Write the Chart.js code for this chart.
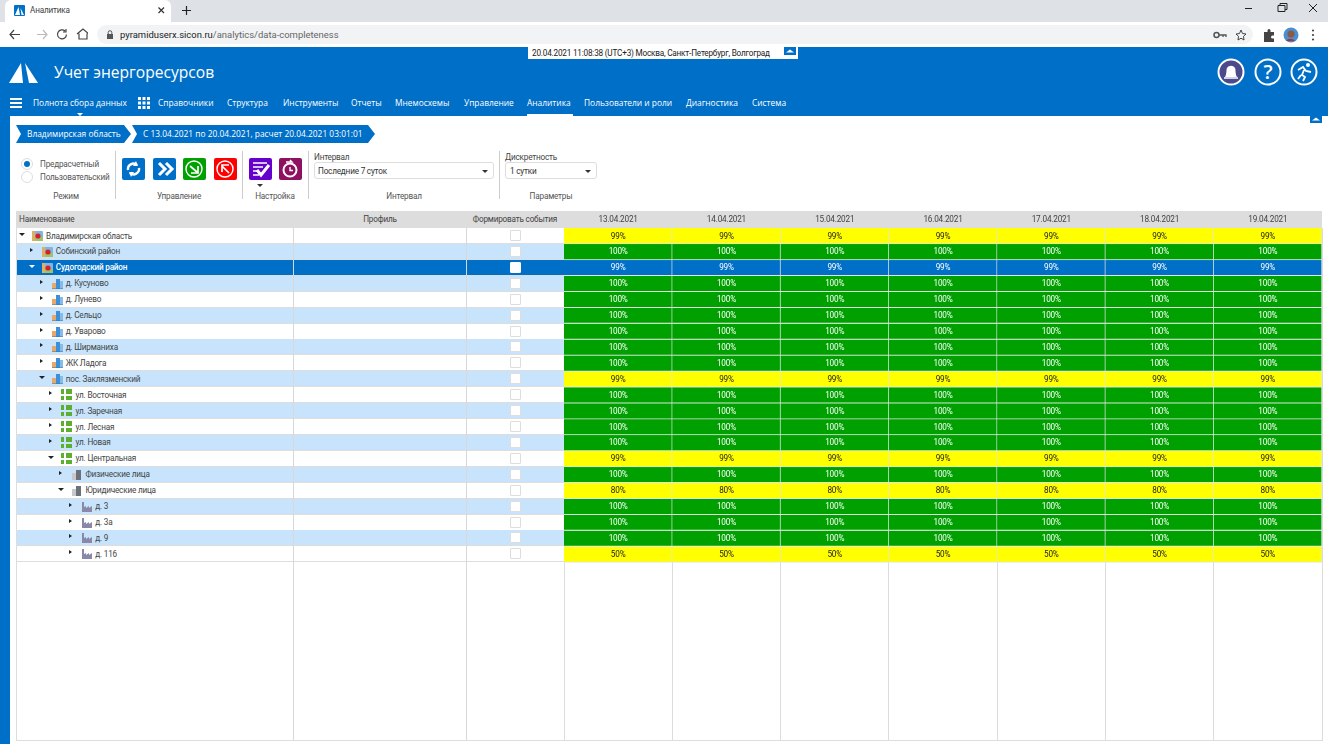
<!DOCTYPE html>
<html lang="ru">
<head>
<meta charset="utf-8">
<title>Аналитика</title>
<script src="https://cdn.jsdelivr.net/npm/chart.js@4"></script>
<style>
html, body { margin: 0; padding: 0; width: 1328px; height: 744px; overflow: hidden; background: #fff; font-family: Roboto, sans-serif; color: #333; }
.a { position: absolute; }
.t { position: absolute; white-space: nowrap; font-size: 8.2px; letter-spacing: -0.2px; line-height: 12px; height: 12px; }
.o { font-family: "Open Sans", sans-serif; font-size: 8.4px; letter-spacing: 0; }
.c { transform: translateX(-50%); }
.btn { position: absolute; top: 158px; width: 23px; height: 22px; border-radius: 2px; }
.sep { position: absolute; top: 151px; height: 48px; width: 1px; background: #ccc; }
.sel { position: absolute; top: 162px; height: 17px; border: 1px solid #ddd; border-radius: 3px; box-sizing: border-box; }
.tri { position: absolute; width: 0; height: 0; border-left: 3px solid transparent; border-right: 3px solid transparent; border-top: 3px solid #333; }
#heat { position: absolute; left: 564px; top: 211px; }
</style>
</head>
<body>
<!-- browser -->
<div class="a" style="left:0;top:0;width:1328px;height:22px;background:#dee1e6"></div>
<div class="a" style="left:5px;top:0;width:166px;height:22px;background:#fff;border-radius:6px 6px 0 0"></div>
<svg class="a" style="left:14px;top:5px" width="11" height="11"><rect width="11" height="11" rx="1" fill="#0070c8"/><path d="M1 10L4.5 2L6 10ZM6.5 3L10 10H7.5Z" fill="#fff"/></svg>
<span class="t" style="left:30px;top:4px;color:#444">Аналитика</span>
<svg class="a" style="left:157px;top:6px" width="9" height="9"><path d="M1.5 1.5L7 7M7 1.5L1.5 7" stroke="#333" stroke-width="1.2"/></svg>
<svg class="a" style="left:181px;top:5px" width="11" height="11"><path d="M5.5 1V10M1 5.5H10" stroke="#222" stroke-width="1.2"/></svg>
<svg class="a" style="left:1240px;top:2px" width="85" height="14" fill="none" stroke="#222"><path d="M5 6.5H12"/><path d="M38 3.5H45V9.5H38ZM40 3.5V1.5H47V7.5H45"/><path d="M69 2L77 10M77 2L69 10"/></svg>
<div class="a" style="left:0;top:22px;width:1328px;height:25px;background:#fff"></div>
<svg class="a" style="left:8px;top:26px" width="80" height="16" fill="none" stroke="#444" stroke-width="1.2"><path d="M2 8.5H12M6 4L2 8.5L6 13"/><path d="M29 8.5H39M35 4L39 8.5L35 13" stroke="#bbb"/><path d="M57 5a4.5 4.5 0 1 0 1.5 3.5M58 3V6H55"/><path d="M69 8L75 3L81 8M71 7.5V13H79V7.5"/></svg>
<div class="a" style="left:97px;top:25px;width:1156px;height:19px;background:#f1f3f4;border-radius:10px"></div>
<svg class="a" style="left:106px;top:30px" width="8" height="9"><rect x="1" y="4" width="6" height="5" fill="#555"/><path d="M2.2 4V2.5a1.8 1.8 0 0 1 3.6 0V4" fill="none" stroke="#555"/></svg>
<span class="t" style="left:120px;top:29px;font-size:9.45px;letter-spacing:0;color:#666"><span style="color:#222">pyramiduserx.sicon.ru</span>/analytics/data-completeness</span>
<svg class="a" style="left:1212px;top:28px" width="40" height="14"><circle cx="4.5" cy="7" r="2.5" fill="none" stroke="#555" stroke-width="1.5"/><path d="M7 7H14V9M11 7V9" stroke="#555" stroke-width="1.3" fill="none"/><path d="M29 2L30.5 5.5L34 6L31.5 8.3L32 12L29 10.2L26 12L26.5 8.3L24 6L27.5 5.5Z" fill="none" stroke="#444"/></svg>
<svg class="a" style="left:1262px;top:27px" width="60" height="16"><path d="M2 5H5.5V3.5a1.5 1.5 0 0 1 3 0V5H12V8.5H10.5a1.5 1.5 0 0 0 0 3H12V15H2Z" fill="#444"/><circle cx="29" cy="8" r="7.5" fill="#4a90d0"/><circle cx="29" cy="7" r="3.6" fill="#8a5a44"/><path d="M24 14a5 4 0 0 1 9 0Z" fill="#a33"/><g fill="#444"><circle cx="51" cy="3.5" r="1.1"/><circle cx="51" cy="8" r="1.1"/><circle cx="51" cy="12.5" r="1.1"/></g></svg>

<!-- app header -->
<div class="a" style="left:0;top:47px;width:1328px;height:69px;background:#006fc7"></div>
<div class="a" style="left:528px;top:47px;width:270px;height:12px;background:#fff"></div>
<span class="t" style="left:532px;top:48px;line-height:11px;color:#222">20.04.2021 11:08:38 (UTC+3) Москва, Санкт-Петербург, Волгоград</span>
<svg class="a" style="left:784px;top:47px" width="12" height="8"><rect width="12" height="8" fill="#006fc7"/><path d="M2 5.5L6 2.5L10 5.5Z" fill="#fff"/></svg>
<svg class="a" style="left:8px;top:62px" width="32" height="22"><path d="M1 21L13 1L15 21ZM17 1L30 21H21Z" fill="#fff"/></svg>
<span class="t o" style="left:54px;top:61px;height:22px;line-height:22px;font-size:15.6px;color:#fff">Учет энергоресурсов</span>
<div class="a" style="left:10px;top:98px;width:12px;height:2px;background:#fff;box-shadow:0 4px 0 #fff,0 8px 0 #fff"></div>
<svg class="a" style="left:138px;top:97px" width="12" height="12" fill="#fff"><rect width="3" height="3"/><rect x="4.5" width="3" height="3"/><rect x="9" width="3" height="3"/><rect y="4.5" width="3" height="3"/><rect x="4.5" y="4.5" width="3" height="3"/><rect x="9" y="4.5" width="3" height="3"/><rect y="9" width="3" height="3"/><rect x="4.5" y="9" width="3" height="3"/><rect x="9" y="9" width="3" height="3"/></svg>
<div class="tri" style="left:77px;top:113px;border-top-color:#fff"></div>
<div class="a" style="left:527px;top:114px;width:46px;height:2px;background:#fff"></div>
<div id="menu"></div>
<svg class="a" style="left:1216px;top:57px" width="104" height="30" fill="none" stroke="#fff" stroke-width="2"><circle cx="15" cy="15" r="12.5" fill="#4a4a8c"/><path d="M9 20C11 17 10 13 11 11C13 8 17 8 19 11C20 13 19 17 21 20Z" fill="#fff" stroke="none"/><path d="M8 21H22" stroke-width="1.5"/><circle cx="52" cy="15" r="12.5"/><text x="52" y="22" font-size="20" text-anchor="middle" fill="#fff" stroke="none" font-family="Open Sans" font-weight="600">?</text><circle cx="88" cy="15" r="12.5"/><circle cx="92" cy="8" r="2" fill="#fff" stroke="none"/><path d="M82 13L87 10L90 14L95 15M88 13L86 18L89 20L87 24M85 18L82 22" stroke-width="1.8"/></svg>

<!-- page -->
<div class="a" style="left:0;top:116px;width:10px;height:628px;background:#006fc7"></div>
<svg class="a" style="left:1310px;top:115px" width="12" height="8"><rect width="12" height="8" fill="#006fc7"/><path d="M2 5.5L6 2.5L10 5.5Z" fill="#fff"/></svg>
<div class="a" style="left:16px;top:125px;width:115px;height:18px;background:#006fc7;clip-path:polygon(0 0,calc(100% - 7px) 0,100% 50%,calc(100% - 7px) 100%,0 100%,5px 50%)"></div>
<div class="a" style="left:132px;top:125px;width:243px;height:18px;background:#006fc7;clip-path:polygon(0 0,calc(100% - 7px) 0,100% 50%,calc(100% - 7px) 100%,0 100%,5px 50%)"></div>
<span class="t o" style="left:27px;top:128px;color:#fff">Владимирская область</span>
<span class="t o" style="left:143px;top:128px;color:#fff">С 13.04.2021 по 20.04.2021, расчет 20.04.2021 03:01:01</span>

<svg class="a" style="left:20px;top:157px" width="14" height="27"><circle cx="7" cy="7" r="5.5" fill="#fff" stroke="#ddd"/><circle cx="7" cy="7" r="3" fill="#0070c8"/><circle cx="7" cy="20" r="5.5" fill="#fff" stroke="#ddd"/></svg>
<span class="t" style="left:40px;top:158px;color:#555">Предрасчетный</span>
<span class="t" style="left:40px;top:171px;color:#555">Пользовательский</span>
<span class="t c" style="left:66px;top:190px;color:#555">Режим</span>
<div class="sep" style="left:115px"></div>
<div class="btn" style="left:122px;background:#006fc7"></div>
<div class="btn" style="left:153px;background:#006fc7"></div>
<div class="btn" style="left:183px;background:#00a000"></div>
<div class="btn" style="left:214px;background:#ff0000"></div>
<svg class="a" style="left:122px;top:158px" width="115" height="22" fill="none" stroke="#fff" stroke-width="2.4"><path d="M6 12a5.5 5.5 0 0 1 9-5M17 10a5.5 5.5 0 0 1-9 5"/><path d="M14 3L16 8L11 8ZM9 19L7 14L12 14Z" fill="#fff" stroke="none"/><path d="M37 5L43 11L37 17M44 5L50 11L44 17" stroke-width="3"/><g stroke-width="1.4"><circle cx="72" cy="11" r="8"/><circle cx="103" cy="11" r="8"/></g><path d="M68 8L75 14M76 8V15H69" stroke-width="1.7"/><path d="M107 15L100 8M100 14V7H107" stroke-width="1.7"/></svg>
<span class="t c" style="left:179px;top:190px;color:#555">Управление</span>
<div class="sep" style="left:242px"></div>
<div class="btn" style="left:249px;background:#6600cc"></div>
<div class="btn" style="left:279px;background:#8e1060"></div>
<svg class="a" style="left:249px;top:158px" width="54" height="22" fill="none" stroke="#fff"><path d="M4 5H18M4 9H14M4 13H10M4 17H10" stroke-width="1.3"/><path d="M8 12L12 17L20 7" stroke-width="3"/><circle cx="41" cy="12" r="6.5" stroke-width="2"/><path d="M41 9V12.5H44" stroke-width="1.4"/><path d="M37 4H43L41 2" stroke-width="1.4"/></svg>
<div class="tri" style="left:257px;top:184px"></div>
<span class="t c" style="left:275px;top:190px;color:#555">Настройка</span>
<div class="sep" style="left:308px"></div>
<span class="t" style="left:314px;top:151px;color:#444">Интервал</span>
<div class="sel" style="left:314px;width:180px"></div>
<span class="t" style="left:318px;top:165px;color:#333">Последние 7 суток</span>
<div class="tri" style="left:482px;top:170px"></div>
<span class="t c" style="left:404px;top:190px;color:#555">Интервал</span>
<div class="sep" style="left:499px"></div>
<span class="t" style="left:505px;top:151px;color:#444">Дискретность</span>
<div class="sel" style="left:505px;width:92px"></div>
<span class="t" style="left:510px;top:165px;color:#333">1 сутки</span>
<div class="tri" style="left:585px;top:170px"></div>
<span class="t c" style="left:551px;top:190px;color:#555">Параметры</span>

<!-- table -->
<div class="a" style="left:16px;top:211px;width:1306px;height:17px;background:#dddddd"></div>
<span class="t" style="left:19px;top:213px;color:#444">Наименование</span>
<span class="t c" style="left:380px;top:213px;color:#444">Профиль</span>
<span class="t c" style="left:515px;top:213px;color:#444">Формировать события</span>
<div id="rows"></div>
<div class="a" style="left:16px;top:228px;width:1px;height:512px;background:#ddd"></div>
<div class="a" style="left:293px;top:228px;width:1px;height:512px;background:#d8d8d8"></div>
<div class="a" style="left:466px;top:228px;width:1px;height:512px;background:#d8d8d8"></div>
<div class="a" style="left:16px;top:740px;width:1306px;height:1px;background:#ddd"></div>
<canvas id="heat" width="759" height="530"></canvas>

<script>
// dates across the top
const dates = ['13.04.2021', '14.04.2021', '15.04.2021', '16.04.2021', '17.04.2021', '18.04.2021', '19.04.2021'];
const rowNames = ['Владимирская область', 'Собинский район', 'Судогодский район', 'д. Кусуново', 'д. Лунево', 'д. Сельцо', 'д. Уварово',
    'д. Ширманиха', 'ЖК Ладога', 'пос. Заклязменский', 'ул. Восточная', 'ул. Заречная', 'ул. Лесная', 'ул. Новая', 'ул. Центральная',
    'Физические лица', 'Юридические лица', 'д. 3', 'д. 3а', 'д. 9', 'д. 116'];
const rowLevels = [0, 1, 1, 2, 2, 2, 2, 2, 2, 2, 3, 3, 3, 3, 3, 4, 4, 5, 5, 5, 5];
const rowOpen = [1, 0, 1, 0, 0, 0, 0, 0, 0, 1, 0, 0, 0, 0, 1, 0, 1, 0, 0, 0, 0];
// one line per row, one number per date
const completeness = [
    [99, 99, 99, 99, 99, 99, 99],
    [100, 100, 100, 100, 100, 100, 100],
    [99, 99, 99, 99, 99, 99, 99],
    [100, 100, 100, 100, 100, 100, 100],
    [100, 100, 100, 100, 100, 100, 100],
    [100, 100, 100, 100, 100, 100, 100],
    [100, 100, 100, 100, 100, 100, 100],
    [100, 100, 100, 100, 100, 100, 100],
    [100, 100, 100, 100, 100, 100, 100],
    [99, 99, 99, 99, 99, 99, 99],
    [100, 100, 100, 100, 100, 100, 100],
    [100, 100, 100, 100, 100, 100, 100],
    [100, 100, 100, 100, 100, 100, 100],
    [100, 100, 100, 100, 100, 100, 100],
    [99, 99, 99, 99, 99, 99, 99],
    [100, 100, 100, 100, 100, 100, 100],
    [80, 80, 80, 80, 80, 80, 80],
    [100, 100, 100, 100, 100, 100, 100],
    [100, 100, 100, 100, 100, 100, 100],
    [100, 100, 100, 100, 100, 100, 100],
    [50, 50, 50, 50, 50, 50, 50]
];
const menuItems = [['Полнота сбора данных', 33], ['Справочники', 158], ['Структура', 227], ['Инструменты', 283], ['Отчеты', 351], ['Мнемосхемы', 395],
    ['Управление', 464], ['Аналитика', 527], ['Пользователи и роли', 584], ['Диагностика', 686], ['Система', 752]];

const selectedRow = 2;
const rowPitch = 15.92;
const rowTop = 228;
const visibleRows = 32.22;

function cellColor(row, value) {
    if (row === selectedRow) return '#006fc7';
    return value === 100 ? '#00a000' : '#ffff00';
}

function iconFor(level) {
    if (level < 2) return '<rect x="0" y="1" width="11" height="10" rx="1" fill="#7fb5e0"/><rect x="0" y="7" width="11" height="4" fill="#9cc46a"/><rect x="0" y="1" width="3" height="10" fill="#e0b060"/><circle cx="6" cy="6" r="2.6" fill="#d8202a"/>';
    if (level === 2) return '<rect x="0" y="5" width="4" height="6" fill="#e8a868"/><rect x="4" y="1" width="4" height="10" fill="#3d8fd8"/><rect x="8" y="3" width="3" height="8" fill="#86bce8"/><path d="M0 11H11" stroke="#2f78b8"/>';
    if (level === 3) return '<g fill="#5cb030"><rect x="0" y="0" width="3" height="5"/><rect x="5" y="0" width="6" height="5"/><rect x="0" y="7" width="3" height="4"/><rect x="5" y="7" width="6" height="4"/></g>';
    if (level === 4) return '<rect x="1" y="4" width="4" height="7" fill="#c8c8cc"/><rect x="5" y="1" width="5" height="10" fill="#6c7078"/>';
    return '<path d="M1 1V11H11V5L8 7V5L5 7V5L3 6V1Z" fill="#8a88a8"/>';
}

// left columns, drawn as plain rows under the chart
let html = '';
for (let i = 0; i < rowNames.length; i++) {
    const top = rowTop + i * rowPitch;
    const lvl = rowLevels[i];
    const sel = i === selectedRow;
    const bg = sel ? '#006fc7' : (i % 2 ? '#c7e4fc' : '#fff');
    html += '<div class="a" style="left:17px;top:' + top + 'px;width:547px;height:15px;background:' + bg + ';border-bottom:1px solid #ddd"></div>';
    const ax = 19 + lvl * 9.75;
    if (rowOpen[i]) {
        html += '<div class="tri" style="left:' + ax + 'px;top:' + (top + 5) + 'px;border-top-color:' + (sel ? '#fff' : '#222') + '"></div>';
    } else {
        html += '<div class="a" style="left:' + (ax + 1) + 'px;top:' + (top + 4) + 'px;width:0;height:0;border-top:2.5px solid transparent;border-bottom:2.5px solid transparent;border-left:3px solid #222"></div>';
    }
    html += '<svg class="a" style="left:' + (32 + lvl * 9.75) + 'px;top:' + (top + 2) + 'px" width="11" height="11">' + iconFor(lvl) + '</svg>';
    html += '<span class="t" style="left:' + (46 + lvl * 9.85) + 'px;top:' + (top + 1.5) + 'px;color:' + (sel ? '#fff' : '#444') + ';' + (sel ? 'font-weight:500' : '') + '">' + rowNames[i] + '</span>';
    html += '<div class="a" style="left:510px;top:' + (top + 2) + 'px;width:9px;height:9px;background:#fff;border:1px solid ' + (sel ? '#fff' : '#ddd') + ';border-radius:1px"></div>';
}
document.getElementById('rows').innerHTML = html;

let menuHtml = '';
for (let m of menuItems) {
    menuHtml += '<span class="t o" style="left:' + m[1] + 'px;top:97px;color:#fff">' + m[0] + '</span>';
}
document.getElementById('menu').innerHTML = menuHtml;

// one dataset per row; each cell is a floating bar across one row of the y scale
const datasets = [];
for (let r = 0; r < completeness.length; r++) {
    datasets.push({
        label: rowNames[r],
        data: completeness[r].map(function () { return [r, r + 1]; }),
        percent: completeness[r],
        backgroundColor: completeness[r].map(function (v) { return cellColor(r, v); }),
        borderColor: '#dfe8e0',
        borderWidth: { right: 1, bottom: 1 },
        borderSkipped: false,
        grouped: false,
        barPercentage: 1,
        categoryPercentage: 1
    });
}

const cellLabels = {
    id: 'cellLabels',
    beforeDraw(chart) {
        // tighter text, same as the html cells; applies to the date ticks too
        chart.ctx.letterSpacing = '-0.2px';
    },
    afterDatasetsDraw(chart) {
        const ctx = chart.ctx;
        ctx.save();
        ctx.font = '8.2px Roboto';
        ctx.textAlign = 'center';
        ctx.textBaseline = 'middle';
        chart.data.datasets.forEach(function (ds, r) {
            chart.getDatasetMeta(r).data.forEach(function (bar, j) {
                const v = ds.percent[j];
                ctx.fillStyle = (r === selectedRow || v === 100) ? '#fff' : '#222';
                ctx.fillText(v + '%', bar.x, bar.getCenterPoint().y + 0.5);
            });
        });
        ctx.restore();
    }
};

new Chart(document.getElementById('heat'), {
    type: 'bar',
    data: { labels: dates, datasets: datasets },
    plugins: [cellLabels],
    options: {
        responsive: false,
        animation: false,
        layout: { padding: { left: 0, right: 1, top: 0, bottom: 0 } },
        plugins: { legend: { display: false }, tooltip: { enabled: false } },
        scales: {
            x: {
                position: 'top',
                grid: { color: '#dcdcdc', drawTicks: false, offset: true },
                border: { display: false },
                ticks: { color: '#444', padding: 3, maxRotation: 0, font: { family: 'Roboto', size: 8.2 } },
                afterFit(scale) { scale.height = 17; }
            },
            y: { display: false, reverse: true, min: 0, max: visibleRows }
        }
    }
});
</script>
</body>
</html>
